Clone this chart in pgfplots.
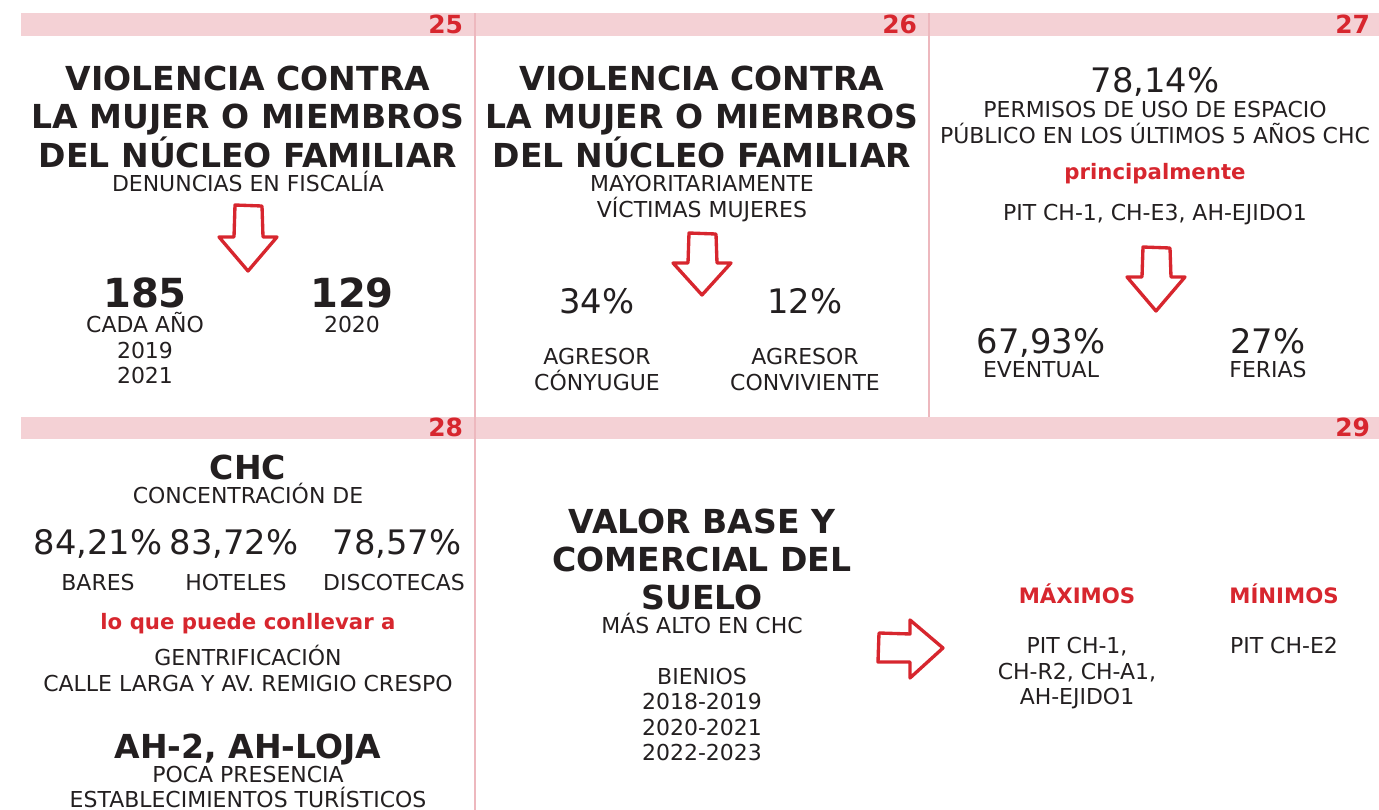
\documentclass[border=0pt]{standalone}
\usepackage{pgfplots}
\pgfplotsset{compat=1.18}
\usepackage{fontspec}
\setmainfont{DejaVu Sans}
\definecolor{ired}{HTML}{D7262E}
\definecolor{itxt}{HTML}{231F20}
\definecolor{iband}{HTML}{F4D1D5}
\definecolor{iline}{HTML}{EDB8BE}
\newcommand\ttl{\fontsize{9.4}{11}\selectfont\bfseries}
\newcommand\sml{\fontsize{6.25}{7.4}\selectfont}
\newcommand\bnum{\fontsize{11.4}{13}\selectfont\bfseries}
\newcommand\pct{\fontsize{9.6}{11}\selectfont}
\newcommand\secn{\fontsize{7.1}{8}\selectfont\bfseries}
\newcommand\rb{\fontsize{6.05}{7.4}\selectfont\bfseries}
\tikzset{tb/.style={anchor=base, inner sep=0pt, outer sep=0pt, text=itxt},
         tr/.style={anchor=base east, inner sep=0pt, outer sep=0pt, text=ired}}
\begin{document}
\begin{tikzpicture}
\begin{axis}[scale only axis, width=13.79cm, height=8.10cm,
  xmin=0, xmax=1379, ymin=0, ymax=810, y dir=reverse,
  axis lines=none, clip=true]
% bands
\addplot[fill=iband, draw=none] coordinates {(21,13) (1379,13) (1379,36) (21,36)} --cycle;
\addplot[fill=iband, draw=none] coordinates {(21,417) (1379,417) (1379,439) (21,439)} --cycle;
% dividers
\addplot[iline, line width=0.45pt] coordinates {(475,13) (475,810)};
\addplot[iline, line width=0.45pt] coordinates {(929,13) (929,417)};
% section numbers
\node[tr] at (axis cs:463,33) {\secn 25};
\node[tr] at (axis cs:917,33) {\secn 26};
\node[tr] at (axis cs:1370,33) {\secn 27};
\node[tr] at (axis cs:463,437) {\secn 28};
\node[tr] at (axis cs:1370,437) {\secn 29};
% arrows
\addplot[ired, line width=0.95pt, line join=round] coordinates {(235,205) (262,206) (263,237) (277,237) (248,271) (219,237) (234,237)} --cycle;
\addplot[ired, line width=0.95pt, line join=round] coordinates {(689,233) (716,234) (717,263) (731,263) (702,295) (673,263) (688,263)} --cycle;
\addplot[ired, line width=0.95pt, line join=round] coordinates {(1143,247) (1170,248) (1171,277) (1185,277) (1156,311) (1127,277) (1142,277)} --cycle;
\addplot[ired, line width=0.95pt, line join=round] coordinates {(879,633) (910,634) (910,620) (943,648) (910,678) (910,662) (878,662)} --cycle;
% panel 25
\node[tb] at (axis cs:248,90) {\ttl VIOLENCIA CONTRA};
\node[tb] at (axis cs:248,128) {\ttl LA MUJER O MIEMBROS};
\node[tb] at (axis cs:248,167) {\ttl DEL NÚCLEO FAMILIAR};
\node[tb] at (axis cs:248,191) {\sml DENUNCIAS EN FISCALÍA};
\node[tb] at (axis cs:145,307) {\bnum 185};
\node[tb] at (axis cs:145,332) {\sml CADA AÑO};
\node[tb] at (axis cs:145,358) {\sml 2019};
\node[tb] at (axis cs:145,384) {\sml 2021};
\node[tb] at (axis cs:352,307) {\bnum 129};
\node[tb] at (axis cs:352,332) {\sml 2020};
% panel 26
\node[tb] at (axis cs:702,90) {\ttl VIOLENCIA CONTRA};
\node[tb] at (axis cs:702,128) {\ttl LA MUJER O MIEMBROS};
\node[tb] at (axis cs:702,167) {\ttl DEL NÚCLEO FAMILIAR};
\node[tb] at (axis cs:702,191) {\sml MAYORITARIAMENTE};
\node[tb] at (axis cs:702,217) {\sml VÍCTIMAS MUJERES};
\node[tb] at (axis cs:597,313) {\pct 34\%};
\node[tb] at (axis cs:805,313) {\pct 12\%};
\node[tb] at (axis cs:597,364) {\sml AGRESOR};
\node[tb] at (axis cs:597,390) {\sml CÓNYUGUE};
\node[tb] at (axis cs:805,364) {\sml AGRESOR};
\node[tb] at (axis cs:805,390) {\sml CONVIVIENTE};
% panel 27
\node[tb] at (axis cs:1155,92) {\pct 78,14\%};
\node[tb] at (axis cs:1155,117) {\sml PERMISOS DE USO DE ESPACIO};
\node[tb] at (axis cs:1155,143) {\sml PÚBLICO EN LOS ÚLTIMOS 5 AÑOS CHC};
\node[tb, text=ired] at (axis cs:1155,179) {\rb principalmente};
\node[tb] at (axis cs:1155,220) {\sml PIT CH-1, CH-E3, AH-EJIDO1};
\node[tb] at (axis cs:1041,353) {\pct 67,93\%};
\node[tb] at (axis cs:1041,377) {\sml EVENTUAL};
\node[tb] at (axis cs:1268,353) {\pct 27\%};
\node[tb] at (axis cs:1268,377) {\sml FERIAS};
% panel 28
\node[tb] at (axis cs:248,480) {\ttl CHC};
\node[tb] at (axis cs:248,504) {\sml CONCENTRACIÓN DE};
\node[tb] at (axis cs:98,555) {\pct 84,21\%};
\node[tb] at (axis cs:234,555) {\pct 83,72\%};
\node[tb] at (axis cs:397,555) {\pct 78,57\%};
\node[tb] at (axis cs:98,591) {\sml BARES};
\node[tb] at (axis cs:236,591) {\sml HOTELES};
\node[tb] at (axis cs:394,591) {\sml DISCOTECAS};
\node[tb, text=ired] at (axis cs:248,630) {\rb lo que puede conllevar a};
\node[tb] at (axis cs:248,666) {\sml GENTRIFICACIÓN};
\node[tb] at (axis cs:248,692) {\sml CALLE LARGA Y AV. REMIGIO CRESPO};
\node[tb] at (axis cs:248,759) {\ttl AH-2, AH-LOJA};
\node[tb] at (axis cs:248,783) {\sml POCA PRESENCIA};
\node[tb] at (axis cs:248,808) {\sml ESTABLECIMIENTOS TURÍSTICOS};
% panel 29
\node[tb] at (axis cs:702,534) {\ttl VALOR BASE Y};
\node[tb] at (axis cs:702,572) {\ttl COMERCIAL DEL};
\node[tb] at (axis cs:702,610) {\ttl SUELO};
\node[tb] at (axis cs:702,634) {\sml MÁS ALTO EN CHC};
\node[tb] at (axis cs:702,685) {\sml BIENIOS};
\node[tb] at (axis cs:702,710) {\sml 2018-2019};
\node[tb] at (axis cs:702,736) {\sml 2020-2021};
\node[tb] at (axis cs:702,761) {\sml 2022-2023};
\node[tb, text=ired] at (axis cs:1077,604) {\rb MÁXIMOS};
\node[tb, text=ired] at (axis cs:1284,604) {\rb MÍNIMOS};
\node[tb] at (axis cs:1077,654) {\sml PIT CH-1,};
\node[tb] at (axis cs:1077,680) {\sml CH-R2, CH-A1,};
\node[tb] at (axis cs:1077,705) {\sml AH-EJIDO1};
\node[tb] at (axis cs:1284,654) {\sml PIT CH-E2};
\end{axis}
\pgfresetboundingbox
\useasboundingbox (current axis.south west) rectangle (current axis.north east);
\end{tikzpicture}
\end{document}
